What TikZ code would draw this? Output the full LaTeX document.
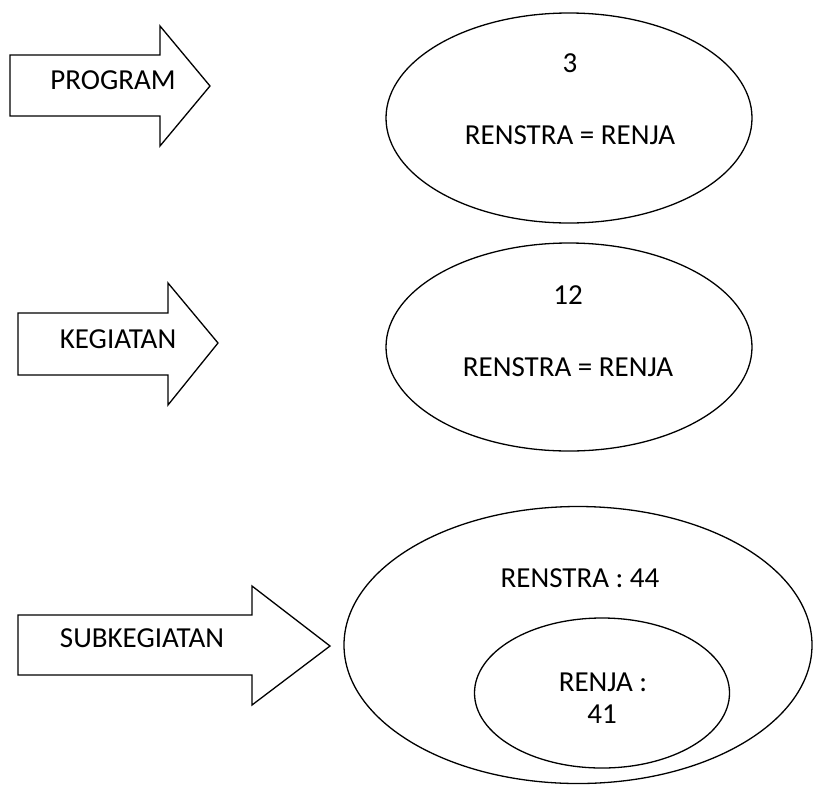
\documentclass[tikz,border=0pt]{standalone}
\usepackage{fontspec}
\setmainfont{Carlito}
\usetikzlibrary{shapes.geometric}
\tikzset{
  outline/.style={draw=black, line width=1.3pt, line join=miter, fill=white},
  oval/.style={ellipse, draw=black, line width=1.3pt, inner sep=0pt},
  label/.style={inner sep=0pt, font=\fontsize{29}{34}\selectfont},
}
\begin{document}
\begin{tikzpicture}[x=1pt, y=-1pt]
  \useasboundingbox (0,0) rectangle (813,785);

  % block arrows on the left
  \draw[outline] (10,55) -- (160,55) -- (160,26) -- (210,86) -- (160,146) -- (160,116) -- (10,116) -- cycle;
  \node[label] (tprog) at (113,80) {PROGRAM};

  \draw[outline] (18,313) -- (168,313) -- (168,283) -- (218,343) -- (168,405) -- (168,375) -- (18,375) -- cycle;
  \node[label] (tkeg) at (118,339) {KEGIATAN};

  \draw[outline] (18,615) -- (252,615) -- (252,586) -- (330,646) -- (252,705) -- (252,675) -- (18,675) -- cycle;
  \node[label] (tsub) at (142,638) {SUBKEGIATAN};

  % program count
  \node[oval, minimum width=366pt, minimum height=210pt] (e1) at (569,118) {};
  \node[label] (n1) at (570,63) {3};
  \node[label] (r1) at (570,135) {RENSTRA = RENJA};

  % activity count
  \node[oval, minimum width=366pt, minimum height=208pt] (e2) at (569,347) {};
  \node[label] (n2) at (568,295) {12};
  \node[label] (r2) at (568,367) {RENSTRA = RENJA};

  % sub-activity counts
  \node[oval, minimum width=468pt, minimum height=277pt] (e3) at (578,645) {};
  \node[label] (r3) at (580,578) {RENSTRA : 44};
  \node[oval, minimum width=255pt, minimum height=150pt] (e4) at (602,693) {};
  \node[label] (r4) at (603,682) {RENJA :};
  \node[label] (n4) at (602,714) {41};
\end{tikzpicture}
\end{document}
